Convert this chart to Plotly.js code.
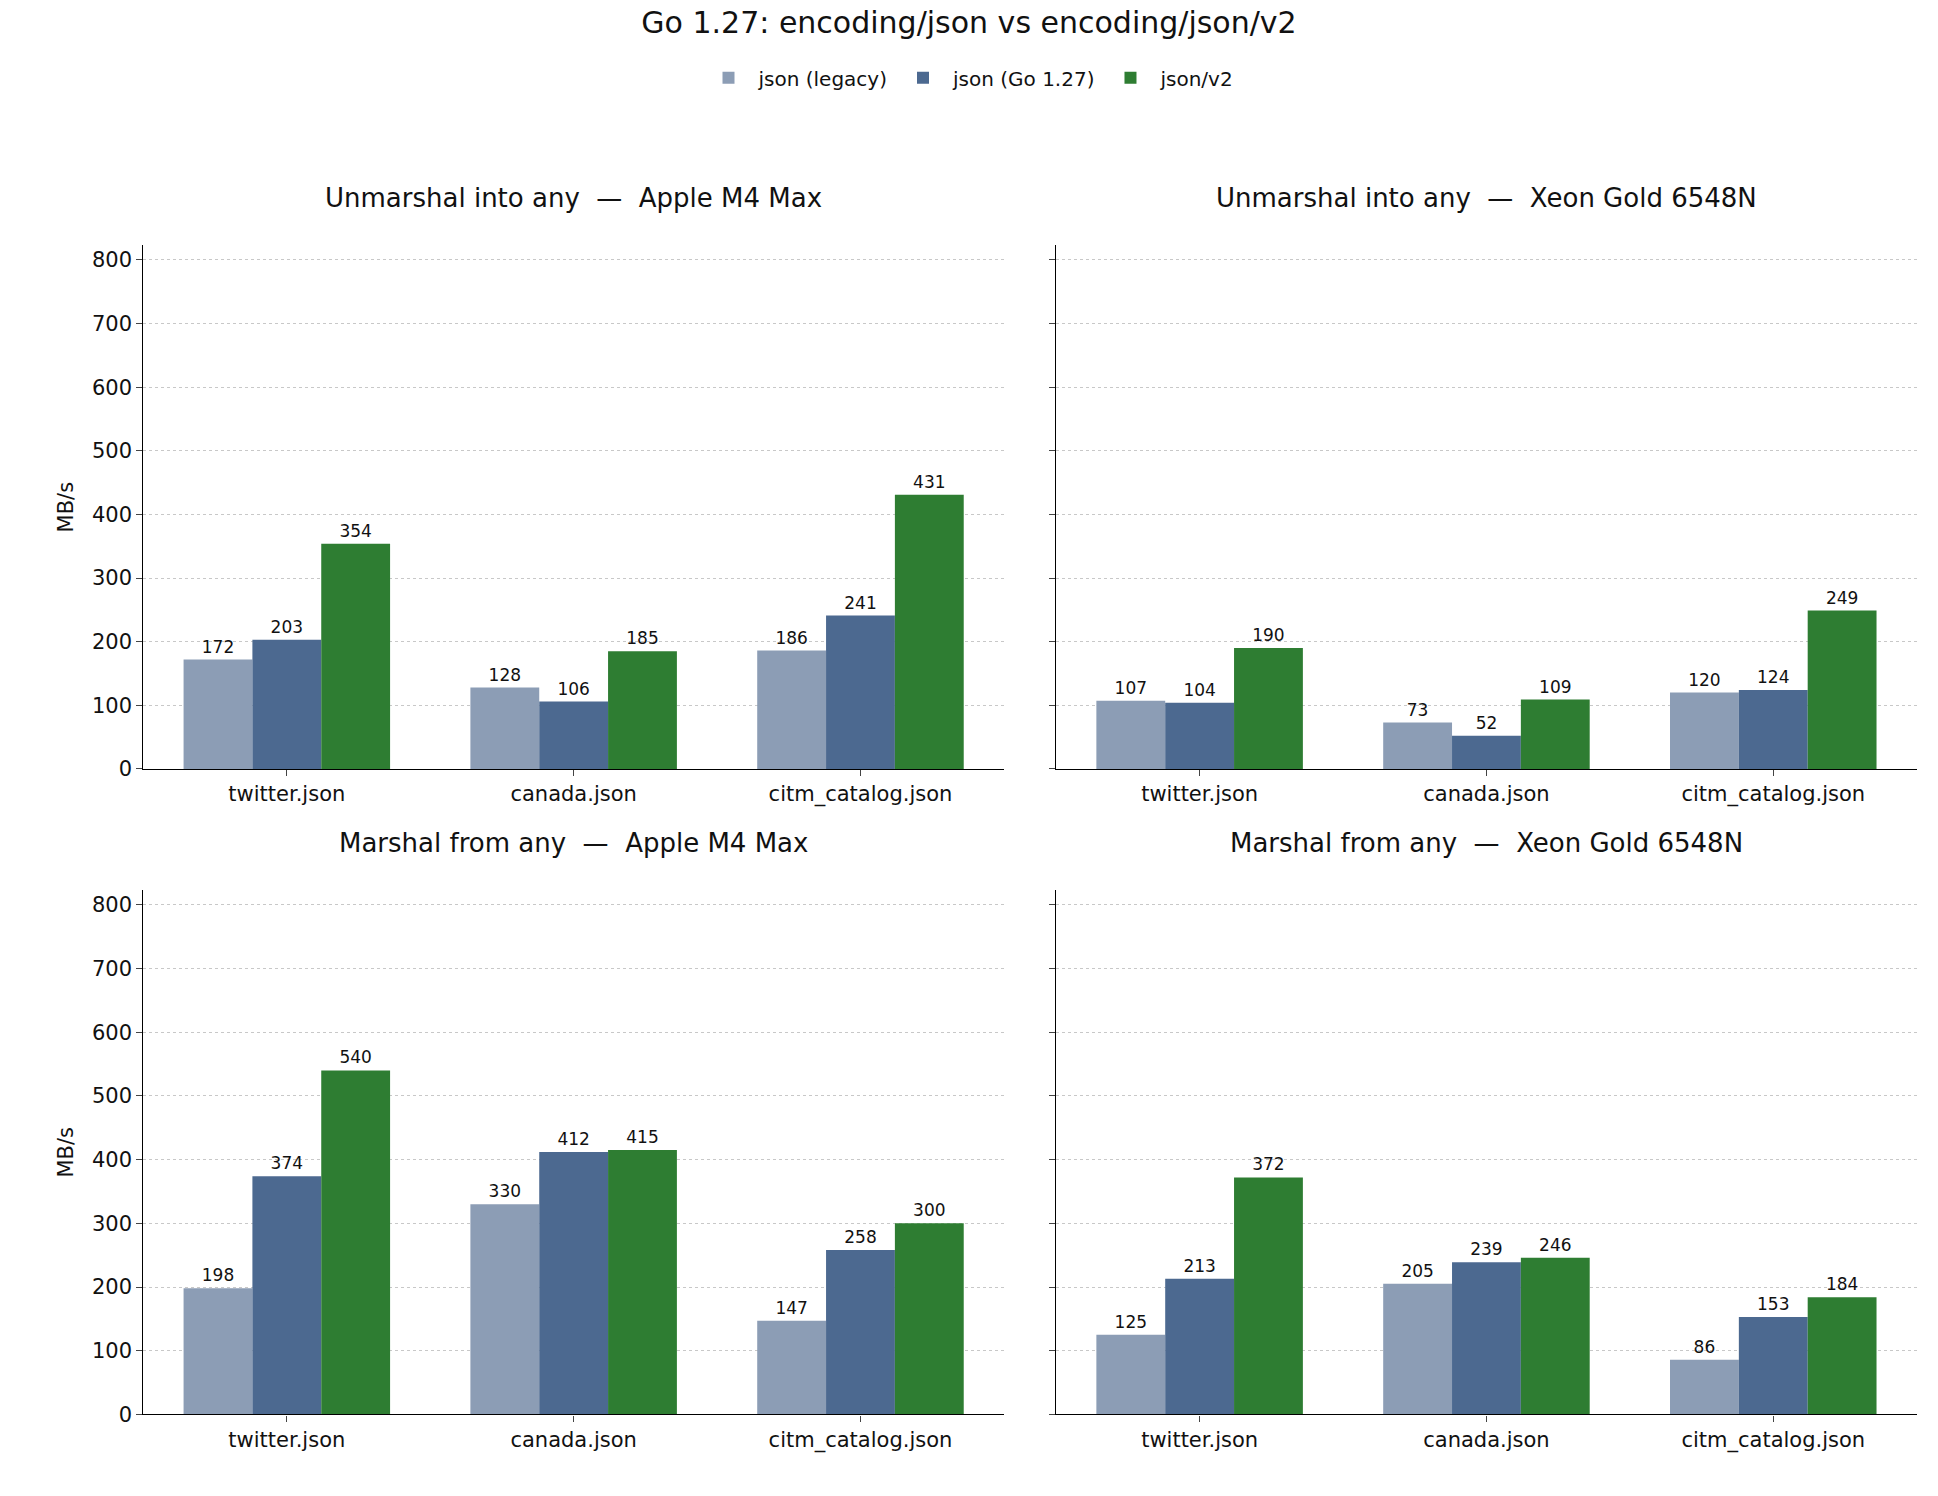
<!DOCTYPE html>
<html lang="en">
<head>
    <meta charset="UTF-8">
    <title>Go 1.27 json benchmarks</title>
    <script src="https://cdn.plot.ly/plotly-3.0.1.min.js"></script>
    <style>body{margin:0}</style>
</head>
<body>
<div id="plot" style="width:1938px;height:1496px"></div>
<script>
    let files = ["twitter.json", "canada.json", "citm_catalog.json"]
    let seriesNames = ["json (legacy)", "json (Go 1.27)", "json/v2"]
    let colors = ["#8c9db5", "#4c6990", "#2e7d32"]
    let panelTitles = [
        "Unmarshal into any  —  Apple M4 Max",
        "Unmarshal into any  —  Xeon Gold 6548N",
        "Marshal from any  —  Apple M4 Max",
        "Marshal from any  —  Xeon Gold 6548N"
    ]
    // per panel: [legacy, go1.27, v2], each over files
    let unmarshalM4 = [[172, 128, 186], [203, 106, 241], [354, 185, 431]]
    let unmarshalXeon = [[107, 73, 120], [104, 52, 124], [190, 109, 249]]
    let marshalM4 = [[198, 330, 147], [374, 412, 258], [540, 415, 300]]
    let marshalXeon = [[125, 205, 86], [213, 239, 153], [372, 246, 184]]
    let panels = [unmarshalM4, unmarshalXeon, marshalM4, marshalXeon]

    let font = "DejaVu Sans, sans-serif"
    let xDomains = [[0.074, 0.518], [0.545, 0.989]]
    let yDomains = [[0.486, 0.836], [0.0545, 0.405]]

    let data = []
    panels.forEach((panel, p) => {
        let ax = p === 0 ? "" : String(p + 1)
        panel.forEach((vals, s) => {
            data.push({
                type: "bar",
                x: files,
                y: vals,
                name: seriesNames[s],
                marker: {color: colors[s]},
                text: vals.map(String),
                textposition: "outside",
                cliponaxis: false,
                textfont: {family: font, size: 17, color: "#111"},
                xaxis: "x" + ax,
                yaxis: "y" + ax,
                showlegend: p === 0,
                legendgroup: seriesNames[s],
                hoverinfo: "y"
            })
        })
    })

    let layout = {
        font: {family: font, color: "#111"},
        margin: {l: 0, r: 0, t: 0, b: 0},
        paper_bgcolor: "white",
        plot_bgcolor: "white",
        barmode: "group",
        bargap: 0.28,
        bargroupgap: 0,
        title: {text: "Go 1.27: encoding/json vs encoding/json/v2", font: {size: 30, family: font}, x: 0.5, xanchor: "center", y: 0.985, yanchor: "middle"},
        legend: {orientation: "h", x: 0.5, xanchor: "center", y: 0.948, yanchor: "middle", font: {size: 20, family: font}, itemwidth: 50},
        annotations: []
    }

    for (let p = 0; p < 4; p++) {
        let ax = p === 0 ? "" : String(p + 1)
        let col = p % 2, row = Math.floor(p / 2)
        layout["xaxis" + ax] = {
            domain: xDomains[col], anchor: "y" + ax,
            showline: true, linecolor: "#000", linewidth: 1.3,
            ticks: "outside", ticklen: 6, tickfont: {size: 21},
            showgrid: false
        }
        layout["yaxis" + ax] = {
            domain: yDomains[row], anchor: "x" + ax,
            range: [0, 823],
            tickvals: [0, 100, 200, 300, 400, 500, 600, 700, 800],
            showticklabels: col === 0,
            showline: true, linecolor: "#000", linewidth: 1.3,
            ticks: "outside", ticklen: 6, tickfont: {size: 21},
            showgrid: true, gridcolor: "#c8c8c8", griddash: "dot", gridwidth: 1,
            zeroline: false,
            title: col === 0 ? {text: "MB/s", font: {size: 21}, standoff: 12} : {text: ""}
        }
        layout.annotations.push({
            text: panelTitles[p], xref: "paper", yref: "paper",
            x: (xDomains[col][0] + xDomains[col][1]) / 2, y: yDomains[row][1] + 0.02,
            xanchor: "center", yanchor: "bottom", showarrow: false,
            font: {size: 26, family: font}
        })
    }

    Plotly.newPlot("plot", data, layout, {displayModeBar: false})
</script>
</body>
</html>
